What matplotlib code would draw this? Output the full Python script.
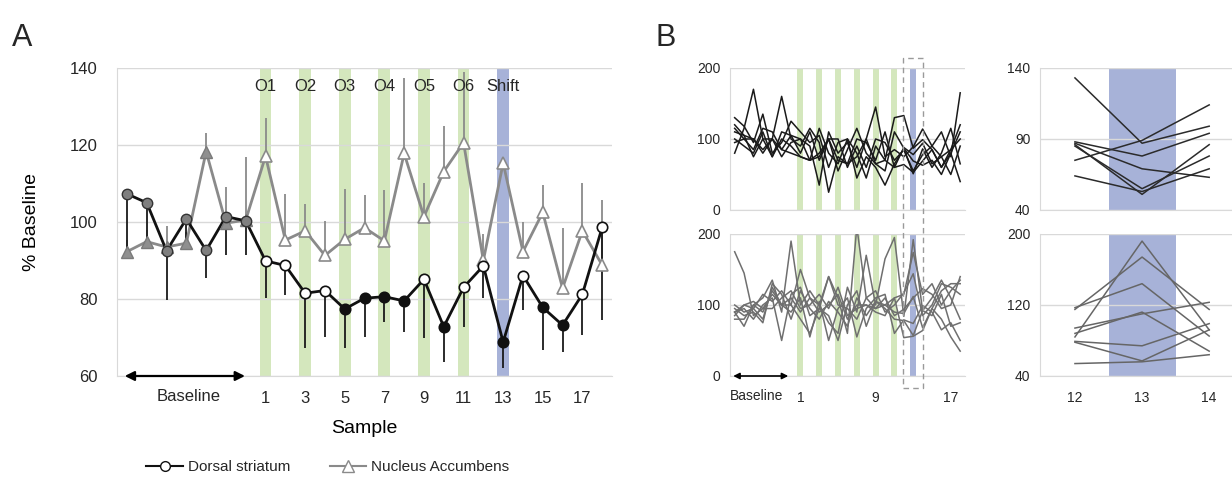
import numpy as np
import matplotlib
matplotlib.use('Agg')
import matplotlib.pyplot as plt
from matplotlib.lines import Line2D
from matplotlib.patches import Rectangle
from matplotlib.transforms import blended_transform_factory

plt.rcParams['font.family'] = ['Liberation Sans', 'DejaVu Sans']
plt.rcParams['text.color'] = '#262626'
plt.rcParams['xtick.color'] = '#262626'
plt.rcParams['ytick.color'] = '#262626'

# samples: 7 baseline samples (-6..0) then samples 1..18
sample = list(range(-6, 19))
odor_samples = [1, 3, 5, 7, 9, 11]
odor_labels = ['O1', 'O2', 'O3', 'O4', 'O5', 'O6']
shift_sample = 13

# group means (% baseline) and one-sided SEM
ds_mean = [107.3, 105.0, 92.5, 100.8, 92.6, 101.4, 100.3, 89.9, 88.7, 81.5, 82.2, 77.4, 80.2,
           80.6, 79.5, 85.1, 72.8, 83.0, 88.6, 68.8, 86.1, 77.8, 73.2, 81.2, 98.6]
ds_sem = [14.0, 10.5, 12.8, 7.0, 7.2, 10.0, 8.9, 9.7, 7.7, 14.3, 12.0, 10.2, 10.2,
          6.5, 8.0, 15.3, 9.1, 10.2, 8.4, 6.8, 8.9, 11.0, 6.9, 10.5, 24.0]
nac_mean = [92.3, 94.9, 93.5, 94.5, 118.3, 99.7, 100.5, 117.1, 95.3, 97.7, 91.3, 95.5, 98.5,
            95.1, 117.8, 101.4, 113.1, 120.6, 90.0, 115.3, 92.3, 102.5, 82.8, 97.7, 88.8]
nac_sem = [3.0, 3.0, 5.4, 3.0, 4.7, 9.5, 16.3, 9.9, 12.0, 6.9, 9.0, 13.1, 8.5,
           13.2, 19.5, 8.6, 11.7, 18.4, 7.0, 0.0, 7.8, 7.1, 15.6, 12.5, 16.9]
ds_sig = [5, 6, 7, 8, 10, 13, 15, 16]

# individual animals, dorsal striatum
ds_ind = [
    [130, 118, 95, 135, 80, 95, 125, 110, 95, 105, 60, 95, 100, 80, 45, 90, 70, 130, 133, 87, 99, 85, 60, 80, 40],
    [80, 115, 170, 100, 75, 110, 105, 100, 90, 35, 110, 80, 95, 60, 100, 145, 75, 85, 75, 89, 114, 90, 110, 75, 165],
    [120, 105, 100, 80, 100, 160, 100, 90, 115, 95, 25, 75, 65, 100, 95, 70, 110, 60, 88, 78, 94, 65, 75, 50, 90],
    [95, 100, 85, 115, 110, 85, 105, 80, 110, 70, 100, 55, 85, 115, 80, 65, 55, 110, 87, 69, 63, 70, 50, 80, 110],
    [100, 90, 80, 110, 75, 100, 90, 75, 70, 115, 80, 65, 100, 45, 75, 60, 35, 65, 86, 51, 86, 60, 80, 115, 65],
    [110, 105, 75, 100, 100, 75, 95, 100, 70, 80, 100, 100, 60, 90, 60, 100, 95, 70, 85, 55, 78, 90, 75, 85, 120],
    [115, 100, 100, 85, 100, 85, 80, 75, 70, 75, 100, 70, 65, 75, 100, 65, 70, 60, 64, 53, 69, 85, 60, 85, 100],
]
# individual animals, nucleus accumbens
nac_ind = [
    [175, 145, 85, 95, 115, 100, 100, 150, 110, 100, 140, 110, 60, 210, 110, 95, 100, 110, 115, 174, 115, 130, 100, 120, 135],
    [90, 70, 100, 110, 135, 90, 190, 100, 120, 100, 75, 60, 125, 90, 170, 100, 165, 195, 84, 192, 92, 110, 135, 110, 80],
    [100, 90, 95, 115, 105, 120, 100, 80, 60, 95, 140, 100, 95, 80, 110, 120, 90, 100, 117, 144, 85, 100, 130, 125, 115],
    [85, 100, 95, 80, 125, 100, 110, 90, 110, 90, 100, 115, 80, 100, 100, 95, 110, 85, 94, 110, 123, 115, 95, 100, 140],
    [90, 95, 80, 100, 110, 50, 115, 125, 85, 95, 85, 50, 100, 120, 70, 105, 100, 90, 88, 112, 68, 95, 80, 55, 35],
    [80, 80, 100, 90, 120, 100, 90, 110, 55, 105, 50, 95, 110, 55, 95, 110, 115, 60, 79, 74, 99, 90, 65, 75, 50],
    [95, 85, 90, 75, 130, 115, 80, 120, 95, 80, 105, 90, 70, 110, 85, 105, 95, 80, 78, 57, 92, 85, 115, 70, 75],
    [90, 100, 105, 95, 95, 110, 120, 95, 100, 115, 95, 125, 85, 95, 100, 90, 85, 110, 54, 56, 64, 95, 120, 130, 130],
]
zoom_samples = [12, 13, 14]

green = '#d4e7bd'
blue = '#a7b2d8'
grid_c = '#d9d9d9'
nac_c = '#8a8a8a'

x = np.array(sample)
dsm = np.array(ds_mean)
nam = np.array(nac_mean)

fig = plt.figure(figsize=(12.32, 4.78), dpi=100)


def style_axes(ax):
    for s in ['top', 'right']:
        ax.spines[s].set_visible(False)
    ax.spines['left'].set_color(grid_c)
    ax.spines['bottom'].set_color(grid_c)
    ax.yaxis.grid(True, color=grid_c, lw=1)
    ax.set_axisbelow(True)


def bands(ax, width):
    for s in odor_samples:
        ax.axvspan(s - width / 2, s + width / 2, color=green, lw=0, zorder=0)
    ax.axvspan(shift_sample - width / 2, shift_sample + width / 2, color=blue, lw=0, zorder=0)


# ---------------- panel A ----------------
axA = fig.add_axes([0.095, 0.2134, 0.4018, 0.6444])
style_axes(axA)
bands(axA, 0.6)
axA.set_xlim(-6.5, 18.5)
axA.set_ylim(60, 140)
axA.set_yticks([60, 80, 100, 120, 140])
axA.set_xticks([1, 3, 5, 7, 9, 11, 13, 15, 17])
axA.tick_params(length=0, labelsize=12)
axA.tick_params(axis='y', pad=14)
axA.tick_params(axis='x', pad=11)

for s, lab in zip(odor_samples + [shift_sample], odor_labels + ['Shift']):
    axA.text(s, 135.2, lab, ha='center', va='center', fontsize=12)

# error bars: DS downward, NAc upward
axA.vlines(x, nam, nam + np.array(nac_sem), color=nac_c, lw=1.3, zorder=2)
axA.vlines(x, dsm - np.array(ds_sem), dsm, color='#1a1a1a', lw=1.3, zorder=2)

axA.plot(x, nam, color=nac_c, lw=2, zorder=3)
axA.plot(x, dsm, color='#111111', lw=2, zorder=4)

base = x <= 0
post = x > 0
sig = np.isin(x, ds_sig)
axA.plot(x[base], nam[base], '^', ms=9, mfc='#8f8f8f', mec='#7a7a7a', mew=1, zorder=5)
axA.plot(x[post], nam[post], '^', ms=9, mfc='white', mec=nac_c, mew=1.2, zorder=5)
axA.plot(x[base], dsm[base], 'o', ms=7.5, mfc='#7f7f7f', mec='#333333', mew=1, zorder=6)
axA.plot(x[post & ~sig], dsm[post & ~sig], 'o', ms=7.5, mfc='white', mec='#111111', mew=1.2, zorder=6)
axA.plot(x[sig], dsm[sig], 'o', ms=7.5, mfc='#111111', mec='#111111', mew=1.2, zorder=6)

axA.annotate('', xy=(-6.25, 60), xytext=(0.1, 60),
             arrowprops=dict(arrowstyle='<|-|>', color='black', lw=1.6, mutation_scale=14),
             annotation_clip=False)
tA = blended_transform_factory(axA.transData, axA.transAxes)
axA.text(-2.9, -0.068, 'Baseline', transform=tA, ha='center', va='center', fontsize=12)
axA.set_ylabel('% Baseline', fontsize=14)
axA.yaxis.set_label_coords(-0.156, 0.5)
axA.set_xlabel('Sample', fontsize=14)
axA.xaxis.set_label_coords(0.5, -0.143)

handles = [Line2D([], [], color='#111111', lw=1.5, marker='o', ms=7, mfc='white', mec='#111111'),
           Line2D([], [], color=nac_c, lw=1.5, marker='^', ms=8, mfc='white', mec=nac_c)]
fig.legend(handles, ['Dorsal striatum', 'Nucleus Accumbens'], loc='center', ncol=2,
           bbox_to_anchor=(0.266, 0.023), frameon=False, fontsize=11,
           handlelength=2.4, columnspacing=2.6, handletextpad=0.3)

fig.text(0.010, 0.92, 'A', fontsize=22, va='center')
fig.text(0.532, 0.92, 'B', fontsize=22, va='center')

# ---------------- panel B: all samples ----------------
axB1 = fig.add_axes([0.5925, 0.5607, 0.1907, 0.2971])
axB2 = fig.add_axes([0.5925, 0.2134, 0.1907, 0.2971])
for ax, data, col in [(axB1, ds_ind, '#1a1a1a'), (axB2, nac_ind, '#6f6f6f')]:
    style_axes(ax)
    bands(ax, 0.65)
    for row in data:
        ax.plot(x, row, color=col, lw=1.1, zorder=3)
    ax.set_xlim(-6.5, 18.5)
    ax.set_ylim(0, 200)
    ax.set_yticks([0, 100, 200])
    ax.tick_params(length=0, labelsize=10, pad=7)
axB1.set_xticks([])
axB2.set_xticks([1, 9, 17])
axB2.tick_params(axis='x', pad=11)
axB2.annotate('', xy=(-6.45, 0), xytext=(0.0, 0),
              arrowprops=dict(arrowstyle='<|-|>', color='black', lw=1.2, mutation_scale=9),
              annotation_clip=False)
tB = blended_transform_factory(axB2.transData, axB2.transAxes)
axB2.text(-3.7, -0.14, 'Baseline', transform=tB, ha='center', va='center', fontsize=10)

# dashed box marking the zoomed window
tbox = blended_transform_factory(axB2.transData, fig.transFigure)
fig.add_artist(Rectangle((zoom_samples[0] - 0.05, 0.1883), zoom_samples[-1] - zoom_samples[0] + 0.1,
                         0.6904, transform=tbox, fill=False, ec='#9a9a9a', lw=1, ls=(0, (4, 3))))

# ---------------- panel B: zoom on samples 12-14 ----------------
i0 = sample.index(zoom_samples[0])
axC1 = fig.add_axes([0.8442, 0.5607, 0.1558, 0.2971])
axC2 = fig.add_axes([0.8442, 0.2134, 0.1558, 0.2971])
for ax, data, col, lims, ticks in [(axC1, ds_ind, '#2b2b2b', (40, 140), [40, 90, 140]),
                                   (axC2, nac_ind, '#666666', (40, 200), [40, 120, 200])]:
    style_axes(ax)
    ax.axvspan(12.5, 13.5, color=blue, lw=0, zorder=0)
    for row in data:
        ax.plot(zoom_samples, row[i0:i0 + 3], color=col, lw=1.1, zorder=3)
    ax.set_xlim(11.48, 14.34)
    ax.set_ylim(*lims)
    ax.set_yticks(ticks)
    ax.tick_params(length=0, labelsize=10, pad=7)
axC1.set_xticks([])
axC2.set_xticks(zoom_samples)
axC2.tick_params(axis='x', pad=11)

fig.savefig('out.png', dpi=100)
